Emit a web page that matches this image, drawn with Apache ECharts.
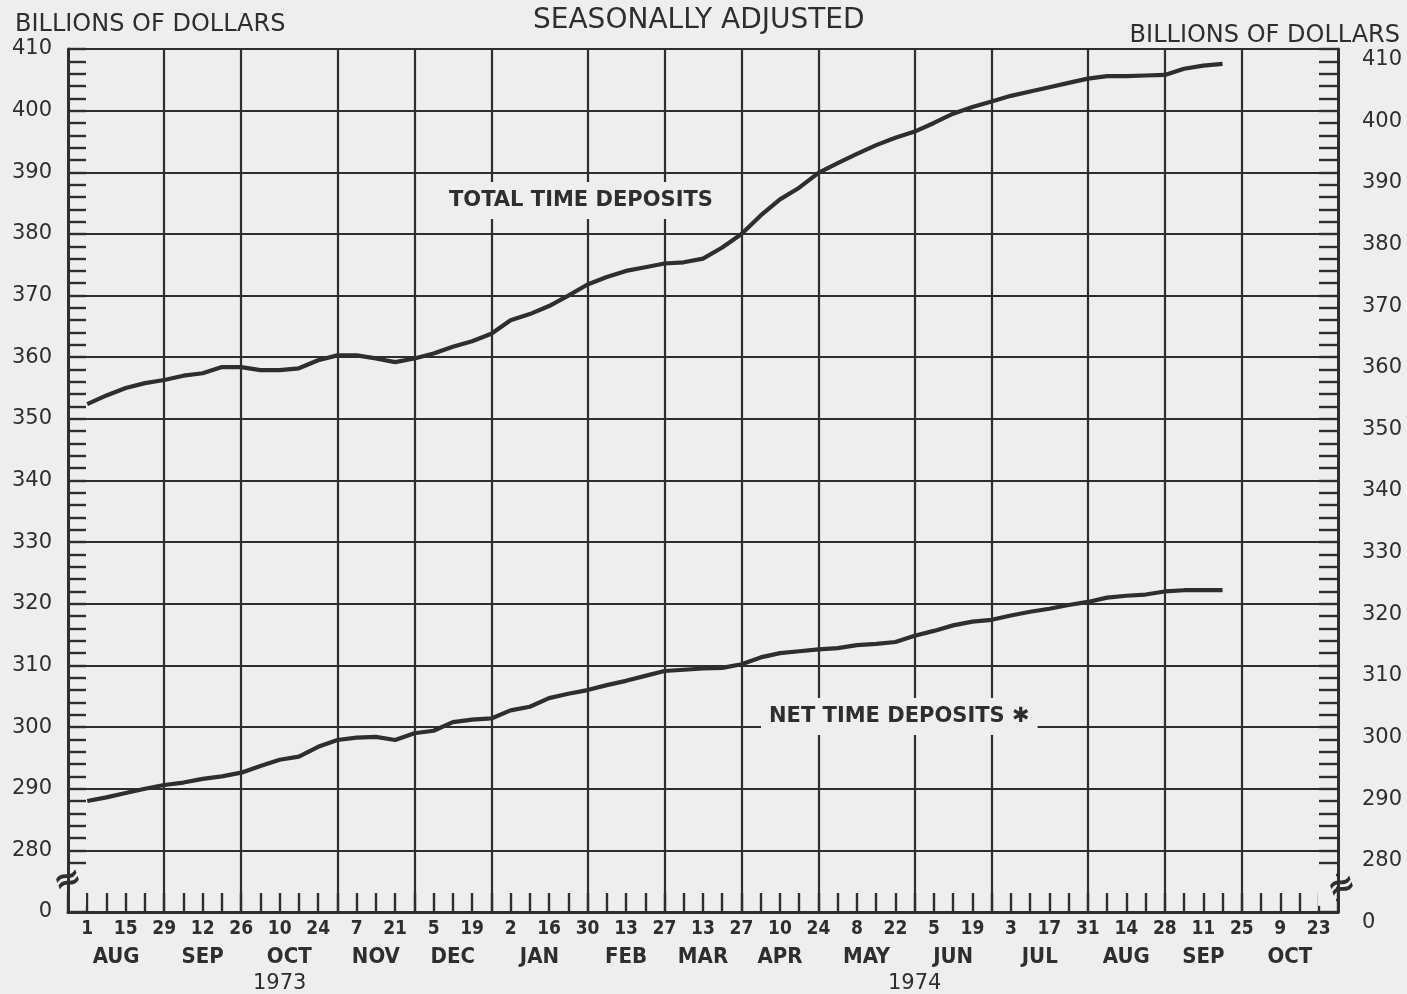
<!DOCTYPE html>
<html><head><meta charset="utf-8">
<script src="https://cdn.jsdelivr.net/npm/echarts@6.0.0/dist/echarts.min.js"></script>
<style>html,body{margin:0;padding:0;background:#eeeeee}#c{width:1407px;height:994px}</style>
</head><body><div id="c"></div>
<script>
// Weekly dates (Wednesdays) on the horizontal axis
const weeks = [
 '1973-07-25','1973-08-01','1973-08-08','1973-08-15','1973-08-22','1973-08-29',
 '1973-09-05','1973-09-12','1973-09-19','1973-09-26',
 '1973-10-03','1973-10-10','1973-10-17','1973-10-24','1973-10-31',
 '1973-11-07','1973-11-14','1973-11-21','1973-11-28',
 '1973-12-05','1973-12-12','1973-12-19','1973-12-26',
 '1974-01-02','1974-01-09','1974-01-16','1974-01-23','1974-01-30',
 '1974-02-06','1974-02-13','1974-02-20','1974-02-27',
 '1974-03-06','1974-03-13','1974-03-20','1974-03-27',
 '1974-04-03','1974-04-10','1974-04-17','1974-04-24',
 '1974-05-01','1974-05-08','1974-05-15','1974-05-22','1974-05-29',
 '1974-06-05','1974-06-12','1974-06-19','1974-06-26',
 '1974-07-03','1974-07-10','1974-07-17','1974-07-24','1974-07-31',
 '1974-08-07','1974-08-14','1974-08-21','1974-08-28',
 '1974-09-04','1974-09-11','1974-09-18','1974-09-25',
 '1974-10-02','1974-10-09','1974-10-16','1974-10-23','1974-10-30'
];
// Series start with the week of Aug 1, 1973 (billions of dollars)
const seriesStart = '1973-08-01';
const totalTimeDeposits = [
 352.4,353.8,355.0,355.8,356.3,357.0,357.4,358.4,358.4,357.9,
 357.9,358.2,359.5,360.3,360.3,359.8,359.2,359.8,360.6,361.7,
 362.6,363.8,366.0,367.0,368.3,370.0,371.8,373.0,374.0,374.6,
 375.2,375.4,376.0,377.8,380.0,383.0,385.6,387.5,389.9,391.5,
 393.0,394.4,395.6,396.6,398.0,399.5,400.6,401.5,402.4,403.1,
 403.8,404.5,405.2,405.6,405.6,405.7,405.8,406.8,407.3,407.6
];
const netTimeDeposits = [
 288.0,288.6,289.3,290.0,290.6,291.0,291.6,292.0,292.6,293.7,
 294.7,295.2,296.8,297.9,298.3,298.4,297.9,299.0,299.4,300.8,
 301.2,301.4,302.7,303.3,304.7,305.4,306.0,306.8,307.5,308.3,
 309.1,309.3,309.5,309.6,310.2,311.3,312.0,312.3,312.6,312.8,
 313.3,313.5,313.8,314.8,315.6,316.5,317.1,317.4,318.1,318.7,
 319.2,319.8,320.3,321.0,321.3,321.5,322.0,322.2,322.2,322.2
];
const monthNames = ['AUG','SEP','OCT','NOV','DEC','JAN','FEB','MAR','APR','MAY','JUN','JUL','AUG','SEP','OCT'];
const yearNames = ['1973','1974'];
const yMin = 270, yMax = 410, yStep = 10;   // 270 stands for the broken-axis "0"
const yBreakLabel = '0';

const INK = '#2e2e2e';
const PAPER = '#eeeeee';
const NARROW = "'Liberation Sans Narrow','DejaVu Sans Condensed',sans-serif";
const WIDE = "'DejaVu Sans',sans-serif";

// month boundaries: last plotted week of each month (the first slot is the axis itself)
const monthEnds = [];
for (let i = 1; i < weeks.length - 1; i++) {
  if (weeks[i].slice(5,7) !== weeks[i+1].slice(5,7)) monthEnds.push(i);
}
const bounds = [0].concat(monthEnds, [weeks.length - 1]);
// half-week slots used to centre month / year names under their spans
const halfSlots = [];
for (let k = 0; k <= (weeks.length - 1) * 2; k++) halfSlots.push(String(k));
const monthMap = {};
for (let k = 0; k < bounds.length - 1; k++) monthMap[bounds[k] + bounds[k+1]] = monthNames[k];
let yearEnd = 0;
for (let i = 1; i < weeks.length - 1; i++) if (weeks[i].slice(0,4) !== weeks[i+1].slice(0,4)) yearEnd = i;
const yearMap = {};
yearMap[yearEnd] = yearNames[0];
yearMap[yearEnd + weeks.length - 1] = yearNames[1];

const startIdx = weeks.indexOf(seriesStart);
const pad = new Array(startIdx).fill(null);

const chart = echarts.init(document.getElementById('c'), null, {renderer:'canvas'});
const lineStyleGrid = {color: INK, width: 2.2};
const tickStyle = {color: INK, width: 2.4};
const option = {
  backgroundColor: PAPER,
  animation: false,
  title: [
    {text:'SEASONALLY ADJUSTED', left: 528, top: 2, textStyle:{fontFamily: WIDE, fontSize: 28, fontWeight:'normal', color: INK}},
    {text:'BILLIONS OF DOLLARS', left: 10, top: 8, textStyle:{fontFamily: WIDE, fontSize: 24, fontWeight:'normal', color: INK}},
    {text:'BILLIONS OF DOLLARS', right: 2, top: 19, textStyle:{fontFamily: WIDE, fontSize: 24, fontWeight:'normal', color: INK}},
    {text:'TOTAL TIME DEPOSITS', left: 441, top: 182, padding:[8,8], backgroundColor: PAPER, textStyle:{fontFamily: WIDE, fontSize: 21, fontWeight:'bold', color: INK}},
    {text:'NET TIME DEPOSITS \u2731', left: 761, top: 698, padding:[8,8], backgroundColor: PAPER, textStyle:{fontFamily: WIDE, fontSize: 21, fontWeight:'bold', color: INK}}
  ],
  grid: {left: 68, right: 69, top: 49, bottom: 82, outerBoundsMode: 'none', containLabel: false},
  xAxis: [
    {type:'category', data: weeks, boundaryGap: false, position:'bottom',
     axisLine:{show:true, lineStyle:{color: INK, width: 3}},
     axisTick:{show:true, interval: 0, inside: true, length: 19, lineStyle: tickStyle},
     axisLabel:{interval: (i) => i % 2 === 1, margin: 8, color: INK, fontFamily: NARROW, fontWeight:'bold', fontSize: 19,
       formatter: (v) => String(Number(v.slice(8)))},
     splitLine:{show:true, interval: (i) => monthEnds.indexOf(i) >= 0, lineStyle: lineStyleGrid}},
    {type:'category', data: halfSlots, boundaryGap: false, position:'bottom', gridIndex: 0,
     axisLine:{show:false}, axisTick:{show:false}, splitLine:{show:false},
     axisLabel:{interval: (i) => monthMap[i] !== undefined, margin: 34, color: INK, fontFamily: NARROW, fontWeight:'bold', fontSize: 22,
       formatter: (v) => monthMap[Number(v)] || ''}},
    {type:'category', data: halfSlots, boundaryGap: false, position:'bottom', gridIndex: 0,
     axisLine:{show:false}, axisTick:{show:false}, splitLine:{show:false},
     axisLabel:{interval: (i) => yearMap[i] !== undefined, margin: 61, color: INK, fontFamily: WIDE, fontSize: 21,
       formatter: (v) => yearMap[Number(v)] || ''}}
  ],
  yAxis: [
    {type:'value', min: yMin, max: yMax, interval: yStep, position:'left',
     axisLine:{show:true, lineStyle:{color: INK, width: 3}},
     axisTick:{show:true, inside: true, length: 18, lineStyle: tickStyle},
     minorTick:{show:true, splitNumber: 5, length: 18, lineStyle: tickStyle},
     axisLabel:{margin: 16, color: INK, fontFamily: WIDE, fontSize: 21,
       formatter: (v) => v === yMin ? yBreakLabel : String(v)},
     splitLine:{show:true, lineStyle: lineStyleGrid}},
    {type:'value', min: yMin, max: yMax, interval: yStep, position:'right',
     axisLine:{show:true, lineStyle:{color: INK, width: 3}},
     axisTick:{show:true, inside: true, length: 19, lineStyle: tickStyle},
     minorTick:{show:true, splitNumber: 5, length: 19, lineStyle: tickStyle},
     axisLabel:{margin: 24, color: INK, fontFamily: WIDE, fontSize: 21, verticalAlign: 'top',
       formatter: (v) => v === yMin ? yBreakLabel : String(v)},
     splitLine:{show:false}}
  ],
  series: [
    {name:'TOTAL TIME DEPOSITS', type:'line', xAxisIndex:0, yAxisIndex:0, data: pad.concat(totalTimeDeposits),
     symbol:'none', smooth:false, lineStyle:{color: INK, width: 4.2}, z: 5},
    {name:'NET TIME DEPOSITS', type:'line', xAxisIndex:0, yAxisIndex:0, data: pad.concat(netTimeDeposits),
     symbol:'none', smooth:false, lineStyle:{color: INK, width: 4.2}, z: 5}
  ]
};
chart.setOption(option);

// axis-break marks at the broken segment of both value axes (masking the ticks under them)
const xl = chart.convertToPixel({xAxisIndex:0}, weeks[0]);
const xr = chart.convertToPixel({xAxisIndex:0}, weeks[weeks.length-1]);
const yTop = chart.convertToPixel({yAxisIndex:0}, yMin + 7);
const yBot = chart.convertToPixel({yAxisIndex:0}, yMin + 1);
const yl = chart.convertToPixel({yAxisIndex:0}, yMin + 5);
const yr = chart.convertToPixel({yAxisIndex:0}, yMin + 4);
chart.setOption({graphic: [
  {type:'rect', shape:{x: xl + 2, y: yTop, width: 16, height: yBot - yTop}, style:{fill: PAPER}, z: 8},
  {type:'rect', shape:{x: xr - 20, y: yTop, width: 18, height: yBot - yTop}, style:{fill: PAPER}, z: 8},
  {type:'text', x: xl, y: yl, rotation: 0.35, style:{text:'\u2248', fontFamily: WIDE, fontWeight:'bold', fontSize: 34, fill: INK, align:'center', verticalAlign:'middle'}, z: 10},
  {type:'text', x: xr + 4, y: yr, rotation: 0.35, style:{text:'\u2248', fontFamily: WIDE, fontWeight:'bold', fontSize: 34, fill: INK, align:'center', verticalAlign:'middle'}, z: 10}
]});
</script></body></html>
